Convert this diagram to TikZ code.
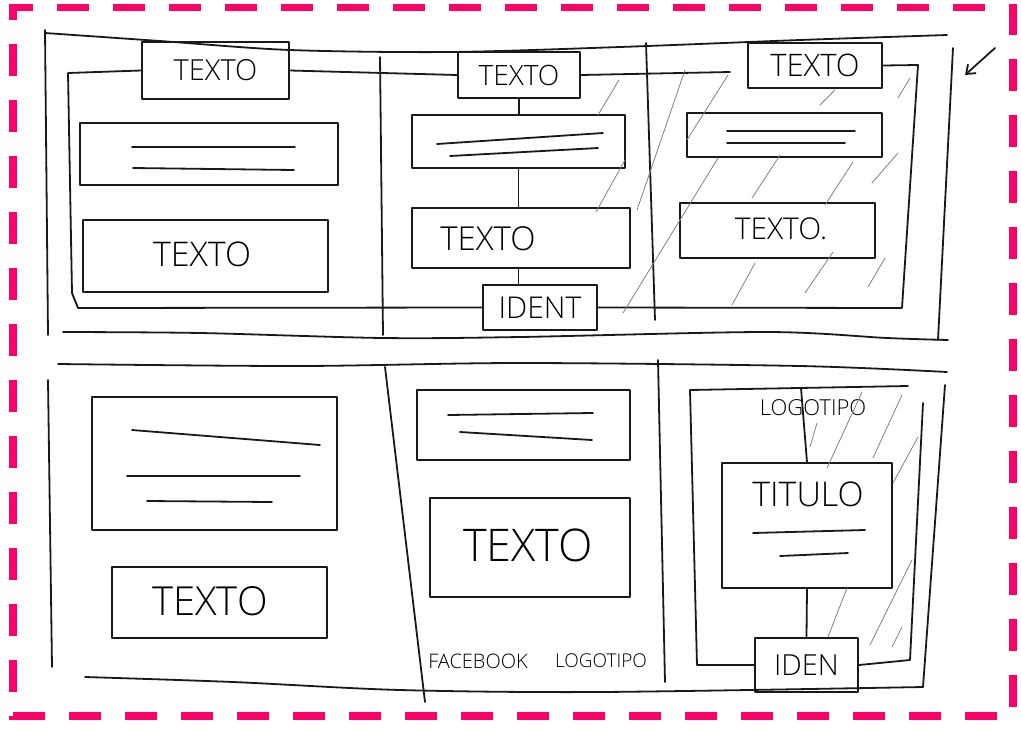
\documentclass[tikz,border=0pt]{standalone}
\usepackage{fontspec}
\setmainfont{Open Sans}[UprightFont={* Light}]
\usetikzlibrary{arrows.meta}
\definecolor{markpink}{HTML}{FF0066}
\begin{document}
\begin{tikzpicture}[x=1pt,y=-1pt,
  sk/.style={line width=1.8pt, draw=black!90, line cap=round, line join=round},
  hatch/.style={line width=0.8pt, draw=black!50, line cap=round},
  box/.style={sk, rectangle, inner sep=0pt},
  lbl/.style={font=\fontsize{#1pt}{#1pt}\selectfont, inner sep=0pt, text=black},
  frame/.style={line width=7.5pt, draw=markpink, dash pattern=on 32pt off 24pt}
]
\useasboundingbox (0,0) rectangle (1021,729);

% dashed outer frame
\draw[frame, dash phase=8pt]  (9,7.5) -- (1017,7.5);
\draw[frame, dash phase=1pt]  (1013,4) -- (1013,720);
\draw[frame, dash phase=52pt] (9,716) -- (1017,716);
\draw[frame, dash phase=16pt] (13,4) -- (13,720);

% ---------- upper screen ----------
\draw[sk] plot[smooth] coordinates {(45,33) (160,41) (290,50) (450,52) (620,47) (800,40) (947,35)};
\draw[sk] (45,30) -- (48,335);
\draw[sk] (953,48) -- (938,340);
\draw[sk] plot[smooth] coordinates {(63,332) (200,333) (383,338) (520,337) (767,332) (887,338) (948,340)};
\draw[sk] (380,57) -- (383,335);
\draw[sk] (646,43) -- (655,320);

% boxes, upper screen
\node[box, minimum width=147, minimum height=57, lbl=29] (t1) at (215.5,70.5) {TEXTO};
\node[box, minimum width=122, minimum height=46, lbl=28] (t2) at (519,75) {TEXTO};
\node[box, minimum width=134, minimum height=45, lbl=31] (t3) at (815,65.5) {TEXTO};
\node[box, minimum width=258, minimum height=62] (l1) at (209,154) {};
\node[box, minimum width=245, minimum height=72] (l2) at (205.5,256) {};
\node[lbl=34] (l2t) at (202,254) {TEXTO};
\node[box, minimum width=213, minimum height=53] (m1) at (518.5,141.5) {};
\node[box, minimum width=218, minimum height=60] (m2) at (521,238) {};
\node[lbl=33] (m2t) at (488,239) {TEXTO};
\node[box, minimum width=114, minimum height=45, lbl=30] (id1) at (540,307.5) {IDENT};
\node[box, minimum width=195, minimum height=44] (r1) at (784.5,135) {};
\node[box, minimum width=195, minimum height=55] (r2) at (777.5,230.5) {};
\node[lbl=30] (r2t) at (781,229) {TEXTO.};

% text placeholder lines
\draw[sk] (132,147) -- (295,147);
\draw[sk] (133,168) -- (294,170);
\draw[sk] (437,144) -- (603,133);
\draw[sk] (450,156) -- (598,148);
\draw[sk] (727,131) -- (855,131);
\draw[sk] (727,143) -- (845,143);

% navigation frame and links
\draw[sk] (t1.west) -- (68,73) -- (72,293) -- (78,308) -- (id1.west);
\draw[sk] (t3.east) -- (918,65) -- (902,308) -- (id1.east);
\draw[sk] (t1.east) -- (t2.west);
\coordinate (t2end) at (730,72);
\draw[sk] (t2.east) -- (t2end);
\draw[sk] (t2.south) -- (t2.south |- m1.north);
\draw[sk] (m1.south) -- (m1.south |- m2.north);
\draw[sk] (m2.south -| m1.south) -- (m1.south |- id1.north);

% corner arrow
\coordinate (ar1) at (995,48);
\coordinate (ar2) at (965,75);
\draw[sk, -{Straight Barb[length=8pt,width=12pt]}] (ar1) -- (ar2);

% hatching, upper right
\foreach \xa/\ya/\xb/\yb in {619/80/598/115, 625/160/596/212, 685/70/637/210,
  728/75/687/140, 718/158/623/313, 835/90/820/105, 910/78/898/98,
  780/155/752/198, 853/162/825/205, 898/153/872/183,
  755/263/732/305, 833/252/805/293, 885/258/868/287}
  \draw[hatch] (\xa,\ya) -- (\xb,\yb);

% ---------- lower screen ----------
\draw[sk] plot[smooth] coordinates {(58,364) (300,366) (520,363) (800,366) (947,372)};
\draw[sk] (48,380) -- (52,667);
\draw[sk] plot[smooth] coordinates {(85,677) (233,682) (400,690) (600,692) (923,687)};
\draw[sk] (945,385) -- (923,687);
\draw[sk] (385,367) -- (425,702);
\draw[sk] (658,360) -- (665,682);

\node[box, minimum width=245, minimum height=133] (b1) at (214.5,463.5) {};
\node[box, minimum width=215, minimum height=71] (b2) at (219.5,602.5) {};
\node[lbl=40] (b2t) at (210,601) {TEXTO};
\node[box, minimum width=200, minimum height=99] (b4) at (530,547.5) {};
\node[lbl=45] (b4t) at (528,545) {TEXTO};
\node[box, minimum width=213, minimum height=70] (b3) at (523.5,425) {};
\node[lbl=20] (fb) at (478,661) {FACEBOOK};
\node[lbl=19] (lg1) at (601,661) {LOGOTIPO};

\draw[sk] (132,430) -- (320,445);
\draw[sk] (127,476) -- (300,476);
\draw[sk] (147,501) -- (272,502);
\draw[sk] (448,415) -- (593,413);
\draw[sk] (460,432) -- (592,440);

% card with title
\node[box, minimum width=170, minimum height=125] (tit) at (807,525.5) {};
\node[lbl=34] (titt) at (808,494) {TITULO};
\node[box, minimum width=103, minimum height=54, lbl=29] (iden) at (806.5,665) {IDEN};
\node[lbl=22] (lg2) at (813,408) {LOGOTIPO};
\draw[sk] (753,533) -- (865,530);
\draw[sk] (780,556) -- (848,553);

\draw[sk] (iden.west) -- (697,665) -- (690,390) -- (908,386);
\draw[sk] (iden.east) -- (910,660) -- (923,403);
\coordinate (lgtop) at (801,388);
\draw[sk] (lgtop) -- (tit.north);
\draw[sk] (tit.south) -- (iden.north);

% hatching, lower right
\foreach \xa/\ya/\xb/\yb in {817/423/810/447, 862/392/827/468, 902/395/873/458,
  918/437/893/483, 847/588/828/637, 912/560/870/645, 902/627/892/647}
  \draw[hatch] (\xa,\ya) -- (\xb,\yb);
\end{tikzpicture}
\end{document}
